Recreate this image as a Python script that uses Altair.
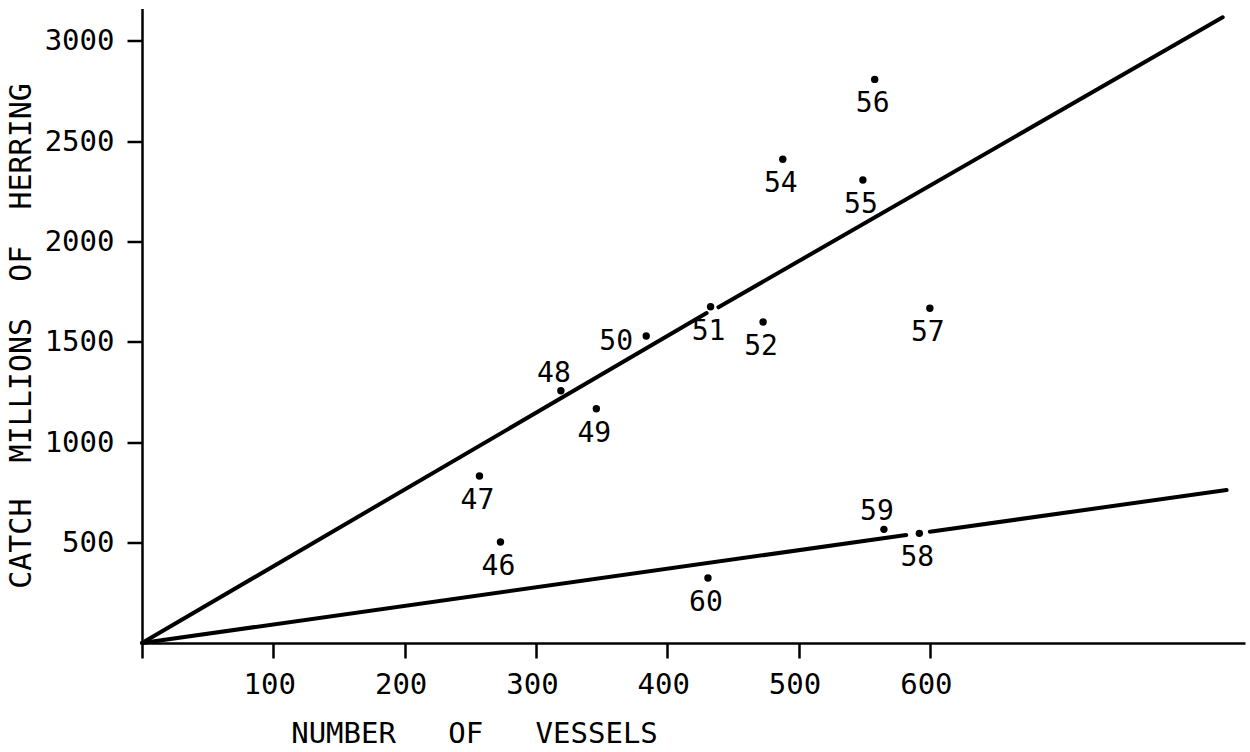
import altair as alt
import pandas as pd

# Year labels of the scatter points (19xx) with vessel count and catch
years = ["46", "47", "48", "49", "50", "51", "52", "54", "55", "56", "57", "58", "59", "60"]
vessels = [273, 257, 319, 346, 384, 433, 473, 488, 549, 558, 600, 592, 565, 431]
catch = [503, 832, 1256, 1167, 1529, 1675, 1599, 2409, 2306, 2807, 1667, 546, 566, 324]

# Hand-drawn trend lines (drawn as segments, with the small gaps of the original)
seg_x0 = [0, 439, 0, 600]
seg_y0 = [0, 1672, 0, 554]
seg_x1 = [430, 823, 582, 826]
seg_y1 = [1643, 3116, 538, 762]

above_years = ["48", "59"]
left_years = ["50"]

x_ticks = [0, 100, 200, 300, 400, 500, 600]
y_ticks = [500, 1000, 1500, 2000, 2500, 3000]

pts = pd.DataFrame({"year": years, "vessels": vessels, "catch": catch})
segs = pd.DataFrame({"x0": seg_x0, "y0": seg_y0, "x1": seg_x1, "y1": seg_y1})

FONT = "DejaVu Sans Mono"
NB = "\u00a0"

xscale = alt.Scale(domain=[0, 840], nice=False, zero=True)
yscale = alt.Scale(domain=[0, 3160], nice=False, zero=True)

x_axis = alt.Axis(
    values=x_ticks,
    format="d",
    labelExpr="datum.value == 0 ? '' : datum.label",
    title="NUMBER" + NB * 3 + "OF" + NB * 3 + "VESSELS",
    titleX=332,
    titleY=90,
    titleAlign="center",
    titleBaseline="middle",
    labelBaseline="middle",
    labelPadding=26,
    labelOffset=-4,
)
y_axis = alt.Axis(
    values=y_ticks,
    format="d",
    title="CATCH" + NB * 2 + "MILLIONS" + NB * 2 + "OF" + NB * 2 + "HERRING",
    titleX=-121,
    titleY=327,
    titleAngle=270,
    titleAlign="center",
    titleBaseline="middle",
    titleFontSize=30,
    labelPadding=13,
)

lines = alt.Chart(segs).mark_rule(color="black", strokeWidth=4, strokeCap="round").encode(
    x=alt.X("x0:Q", scale=xscale, axis=x_axis),
    y=alt.Y("y0:Q", scale=yscale, axis=y_axis),
    x2="x1:Q",
    y2="y1:Q",
)

points = alt.Chart(pts).mark_circle(color="black", size=55, opacity=1).encode(
    x=alt.X("vessels:Q", scale=xscale),
    y=alt.Y("catch:Q", scale=yscale),
)

text_base = alt.Chart(pts).encode(
    x=alt.X("vessels:Q", scale=xscale),
    y=alt.Y("catch:Q", scale=yscale),
    text="year:N",
)
TS = 28
below = text_base.transform_filter(
    ~alt.FieldOneOfPredicate(field="year", oneOf=above_years + left_years)
).mark_text(font=FONT, fontSize=TS, color="black", align="center", baseline="middle", dy=25, dx=-2)
above = text_base.transform_filter(
    alt.FieldOneOfPredicate(field="year", oneOf=above_years)
).mark_text(font=FONT, fontSize=TS, color="black", align="center", baseline="middle", dy=-17, dx=-7)
left = text_base.transform_filter(
    alt.FieldOneOfPredicate(field="year", oneOf=left_years)
).mark_text(font=FONT, fontSize=TS, color="black", align="center", baseline="middle", dy=6, dx=-30)

chart = (
    alt.layer(lines, points, below, above, left)
    .properties(
        width=1103,
        height=634.5,
        autosize=alt.AutoSizeParams(type="none"),
        padding={"left": 142, "top": 8.5, "right": 5, "bottom": 109},
        background="white",
    )
    .configure_view(stroke=None)
    .configure_axis(
        grid=False,
        domainColor="black",
        domainWidth=2.5,
        tickColor="black",
        tickWidth=2.5,
        tickSize=15,
        labelFont=FONT,
        labelFontSize=29,
        labelColor="black",
        titleFont=FONT,
        titleFontSize=29,
        titleFontWeight="normal",
        titleColor="black",
    )
)

chart.save("out.html", embed_options={"renderer": "svg", "actions": False})
